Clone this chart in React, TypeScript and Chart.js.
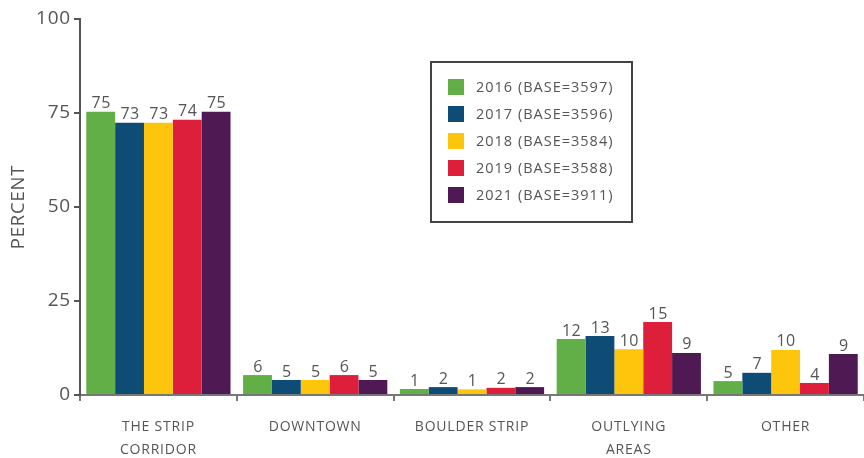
import React, { useEffect, useRef } from "react";
import { Chart, registerables } from "chart.js";

Chart.register(...registerables);

const categories: (string | string[])[] = [
  ["THE STRIP", "CORRIDOR"],
  "DOWNTOWN",
  "BOULDER STRIP",
  ["OUTLYING", "AREAS"],
  "OTHER",
];

const seriesNames = [
  "2016 (BASE=3597)",
  "2017 (BASE=3596)",
  "2018 (BASE=3584)",
  "2019 (BASE=3588)",
  "2021 (BASE=3911)",
];

const colors = ["#62AE47", "#0E4C75", "#FDC60C", "#DD1F3B", "#4F1A54"];

// bar heights as drawn in the picture
const values2016 = [75.3, 5.3, 1.6, 14.9, 3.7];
const values2017 = [72.4, 4.0, 2.1, 15.7, 5.9];
const values2018 = [72.4, 4.0, 1.5, 12.2, 12.0];
const values2019 = [73.2, 5.3, 1.9, 19.4, 3.2];
const values2021 = [75.3, 4.0, 2.1, 11.2, 10.9];

// value labels printed above the bars
const labels2016 = ["75", "6", "1", "12", "5"];
const labels2017 = ["73", "5", "2", "13", "7"];
const labels2018 = ["73", "5", "1", "10", "10"];
const labels2019 = ["74", "6", "2", "15", "4"];
const labels2021 = ["75", "5", "2", "9", "9"];

const yTicks = [0, 25, 50, 75, 100];

const FONT = "'Open Sans', Lato, sans-serif";
const TEXT = "#555555";

const allValues = [values2016, values2017, values2018, values2019, values2021];
const allLabels = [labels2016, labels2017, labels2018, labels2019, labels2021];

const spacingPlugin = {
  id: "spacing",
  beforeDraw(chart: any) {
    chart.ctx.letterSpacing = "0.8px";
  },
  afterDraw(chart: any) {
    chart.ctx.letterSpacing = "0px";
  },
};

const valueLabelPlugin = {
  id: "valueLabels",
  afterDatasetsDraw(chart: any) {
    const ctx = chart.ctx;
    ctx.save();
    ctx.letterSpacing = "0.5px";
    ctx.font = `16px ${FONT}`;
    ctx.fillStyle = TEXT;
    ctx.textAlign = "center";
    ctx.textBaseline = "bottom";
    chart.data.datasets.forEach((ds: any, di: number) => {
      const meta = chart.getDatasetMeta(di);
      meta.data.forEach((bar: any, i: number) => {
        ctx.fillText(allLabels[di][i], bar.x + 0.5, bar.y);
      });
    });
    ctx.restore();
  },
};

const boxLegendPlugin = {
  id: "boxLegend",
  afterDraw(chart: any) {
    const ctx = chart.ctx;
    const left = 430;
    const top = 61;
    const w = 203;
    const h = 162;
    ctx.save();
    ctx.strokeStyle = "#444444";
    ctx.lineWidth = 2;
    ctx.strokeRect(left + 1, top + 1, w - 2, h - 2);
    ctx.letterSpacing = "1px";
    ctx.font = `14.5px ${FONT}`;
    ctx.textBaseline = "middle";
    ctx.textAlign = "left";
    chart.data.datasets.forEach((ds: any, i: number) => {
      const cy = top + 26 + i * 27;
      ctx.fillStyle = ds.backgroundColor;
      ctx.fillRect(left + 18, cy - 8, 16, 16);
      ctx.fillStyle = TEXT;
      ctx.fillText(ds.label, left + 46, cy + 1);
    });
    ctx.restore();
  },
};

export default function App() {
  const ref = useRef<HTMLCanvasElement>(null);

  useEffect(() => {
    if (!ref.current) return;
    const chart = new Chart(ref.current, {
      type: "bar",
      data: {
        labels: categories,
        datasets: seriesNames.map((name, i) => ({
          label: name,
          data: allValues[i],
          backgroundColor: colors[i],
          borderWidth: 0,
          categoryPercentage: 0.92,
          barPercentage: 1.0,
        })),
      },
      options: {
        animation: false,
        responsive: true,
        maintainAspectRatio: false,
        layout: { padding: { top: 19, right: 0, left: 0, bottom: 0 } },
        plugins: {
          legend: { display: false },
          tooltip: { enabled: false },
        },
        scales: {
          x: {
            grid: {
              offset: true,
              drawOnChartArea: false,
              drawTicks: true,
              tickLength: 6,
              color: "#777777",
              lineWidth: 2,
            },
            border: { color: "#777777", width: 2 },
            ticks: {
              color: TEXT,
              font: { family: FONT, size: 14, lineHeight: 1.6 },
              padding: 15,
              maxRotation: 0,
              autoSkip: false,
            },
            afterFit(scale: any) {
              scale.height = 63;
            },
          },
          y: {
            min: 0,
            max: 100,
            afterBuildTicks(scale: any) {
              scale.ticks = yTicks.map((v) => ({ value: v }));
            },
            grid: {
              drawOnChartArea: false,
              drawTicks: true,
              tickLength: 6,
              color: "#555555",
              lineWidth: 2,
            },
            border: { color: "#555555", width: 2 },
            ticks: {
              color: TEXT,
              font: { family: FONT, size: 19 },
              padding: 3,
            },
            title: {
              display: true,
              text: "PERCENT",
              color: TEXT,
              font: { family: FONT, size: 18.5 },
              padding: { top: 8, bottom: 4 },
            },
            afterFit(scale: any) {
              scale.width = 80;
            },
          },
        },
      },
      plugins: [spacingPlugin, valueLabelPlugin, boxLegendPlugin],
    });
    return () => chart.destroy();
  }, []);

  return (
    <div style={{ position: "absolute", left: 0, top: 0, width: 864, height: 458 }}>
      <canvas ref={ref} />
    </div>
  );
}
